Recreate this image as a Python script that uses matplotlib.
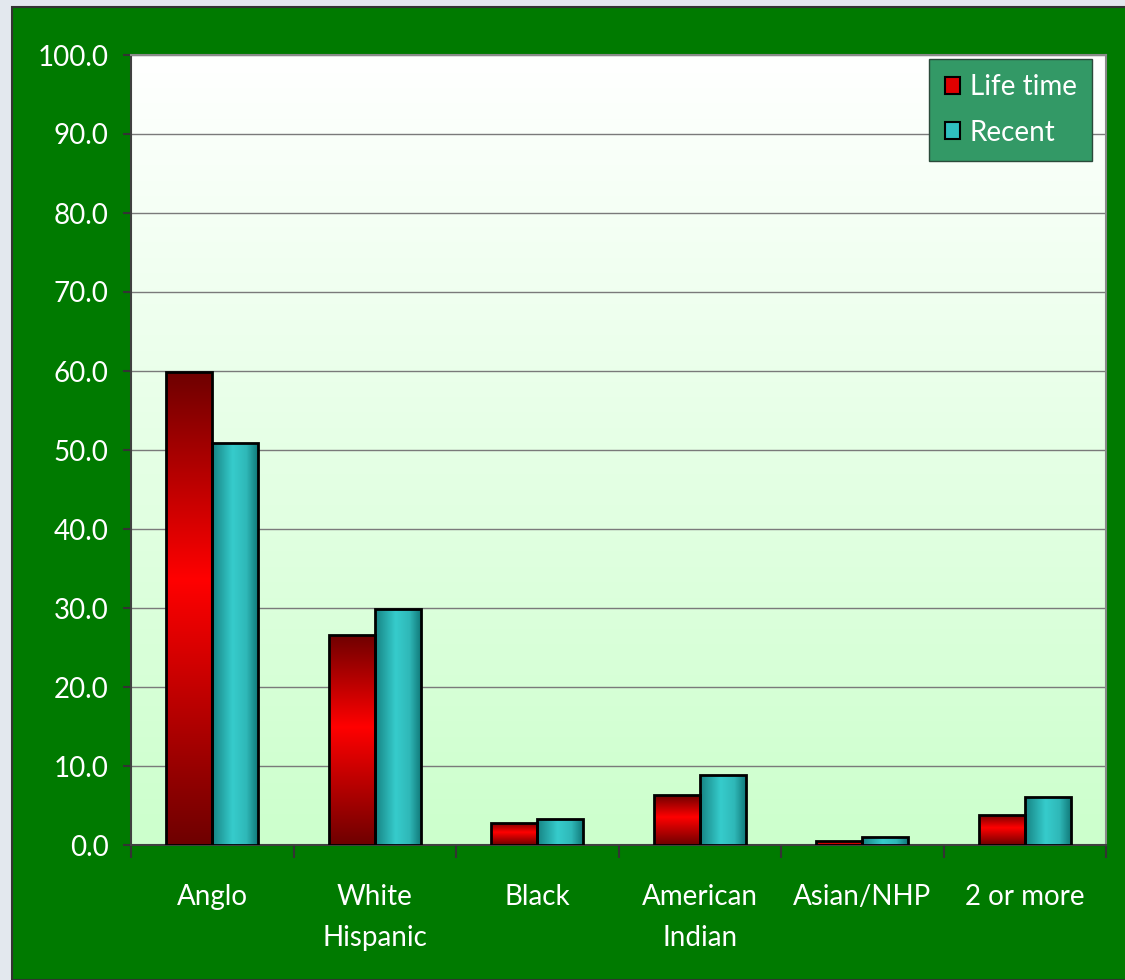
import numpy as np
import matplotlib.pyplot as plt
from matplotlib.colors import LinearSegmentedColormap
from matplotlib.patches import Rectangle, Patch

plt.rcParams['font.family'] = ['Lato', 'DejaVu Sans']

categories = ["Anglo", "White\nHispanic", "Black", "American\nIndian", "Asian/NHP", "2 or more"]
life_time = [59.9, 26.6, 2.8, 6.3, 0.5, 3.8]
recent = [50.9, 29.9, 3.3, 8.9, 1.0, 6.1]
yticks = np.arange(0, 101, 10)

GREEN = "#007a00"
red_cmap = LinearSegmentedColormap.from_list(
    "red", [(0, "#6e0000"), (0.56, "#ff0000"), (1.0, "#6e0000")])
teal_cmap = LinearSegmentedColormap.from_list(
    "teal", [(0, "#168282"), (0.45, "#36cccc"), (0.75, "#2fb8b8"), (1.0, "#117a7a")])
bg_cmap = LinearSegmentedColormap.from_list("bg", ["#ccffcc", "#ffffff"])

fig = plt.figure(figsize=(11.25, 9.8), dpi=100)
fig.patch.set_facecolor("#e3e8ee")
fig.patches.append(Rectangle((12 / 1125, 0), 1.0, 1 - 7 / 980, transform=fig.transFigure,
                             facecolor=GREEN, edgecolor="#333333", linewidth=1.5, zorder=-10))

ax = fig.add_axes([131 / 1125, 1 - 845 / 980, 975 / 1125, 790 / 980])
ax.set_zorder(1)
ax.set_xlim(0, len(categories))
ax.set_ylim(0, 100)

# фон области построения — градиент
grad = np.linspace(0, 1, 256).reshape(-1, 1)
ax.imshow(grad, extent=(0, len(categories), 0, 100), origin="lower", cmap=bg_cmap,
          aspect="auto", zorder=0)

for y in yticks[1:]:
    ax.axhline(y, color="#7a7a7a", linewidth=1.0, zorder=1)

w = 0.283
x = np.arange(len(categories)) + 0.5


def grad_bar(x0, h, cmap, vertical):
    rect = Rectangle((x0, 0), w, h, facecolor="none", edgecolor="black", linewidth=2.0, zorder=4)
    ax.add_patch(rect)
    g = np.linspace(0, 1, 256)
    img = g.reshape(-1, 1) if vertical else g.reshape(1, -1)
    im = ax.imshow(img, extent=(x0, x0 + w, 0, h), origin="lower", cmap=cmap,
                   aspect="auto", zorder=3)
    im.set_clip_path(rect)


for xi, a, b in zip(x, life_time, recent):
    grad_bar(xi - w, a, red_cmap, True)
    grad_bar(xi, b, teal_cmap, False)

ax.set_xlim(0, len(categories))
ax.set_ylim(0, 100)

ax.set_yticks(yticks)
ax.set_yticklabels([f"{v:.1f}" for v in yticks])
ax.set_xticks(x)
ax.set_xticklabels(categories, linespacing=1.7)
ax.set_xticks(np.arange(len(categories) + 1), minor=True)
ax.tick_params(axis="x", which="major", length=0, pad=28, labelsize=20, colors="white")
ax.tick_params(axis="x", which="minor", length=9, width=1.5, color="#333333")
ax.tick_params(axis="y", length=6, width=1.5, color="#333333", labelsize=20,
               labelcolor="white", pad=10)
for s in ["left", "bottom"]:
    ax.spines[s].set_color("#404040")
    ax.spines[s].set_linewidth(1.5)
for s in ["top", "right"]:
    ax.spines[s].set_color("#8a8a8a")
    ax.spines[s].set_linewidth(1.5)

handles = [Patch(facecolor="#e00000", edgecolor="black", linewidth=1.5, label="Life time"),
           Patch(facecolor="#2fc0c0", edgecolor="black", linewidth=1.5, label="Recent")]
leg = ax.legend(handles=handles, loc="upper right", bbox_to_anchor=(0.9856, 0.995),
                fontsize=20, frameon=True, fancybox=False, handlelength=0.55,
                handleheight=0.55, handletextpad=0.35, labelspacing=0.7, borderpad=0.55,
                borderaxespad=0)
leg.get_frame().set_facecolor("#339966")
leg.get_frame().set_edgecolor("#2a4a3a")
leg.get_frame().set_alpha(1)
for t in leg.get_texts():
    t.set_color("white")
leg.set_zorder(10)

fig.savefig("out.png", dpi=100, facecolor=fig.get_facecolor())
